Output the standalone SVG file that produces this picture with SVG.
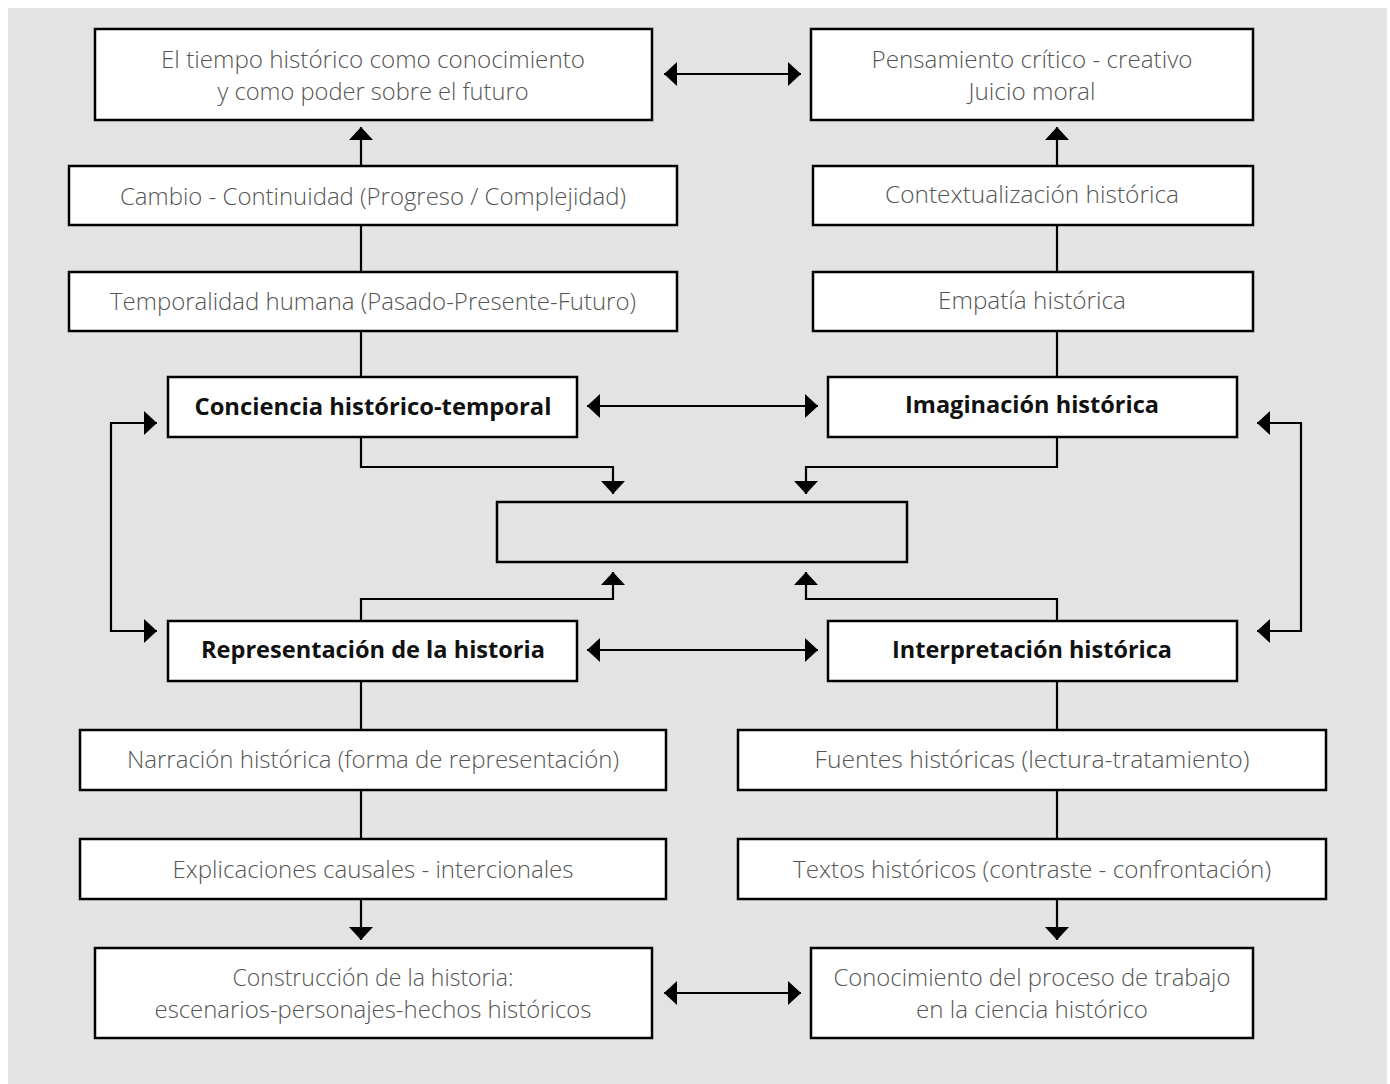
<svg xmlns="http://www.w3.org/2000/svg" width="1390" height="1084" viewBox="0 0 1390 1084">
<defs>
<marker id="ah" viewBox="0 0 13 24" refX="13" refY="12" markerWidth="13" markerHeight="24" markerUnits="userSpaceOnUse" orient="auto-start-reverse">
<path d="M0,0 L13,12 L0,24 Z" fill="#000"/>
</marker>
<style>
.box{fill:#fff;stroke:#000;stroke-width:2.5}
.empty{fill:none;stroke:#000;stroke-width:2.5}
.lt{font-family:"Open Sans","Lato","Liberation Sans",sans-serif;font-weight:300;font-size:24px;fill:#555;text-anchor:middle}
.bd{font-family:"Open Sans","Lato","Liberation Sans",sans-serif;font-weight:700;font-size:24px;fill:#111;text-anchor:middle}
.c{fill:none;stroke:#000;stroke-width:2.2}
.ce{fill:none;stroke:#000;stroke-width:2.2;marker-end:url(#ah)}
.cb{fill:none;stroke:#000;stroke-width:2.2;marker-start:url(#ah);marker-end:url(#ah)}
</style>
</defs>
<rect x="8" y="8" width="1379" height="1076" fill="#e3e3e3"/>
<g id="connectors">
<path class="cb" d="M664,74 H801"/>
<path class="ce" d="M361,166 V127"/>
<path class="c" d="M361,225 V272"/>
<path class="c" d="M361,331 V377"/>
<path class="ce" d="M1057,166 V127"/>
<path class="c" d="M1057,225 V272"/>
<path class="c" d="M1057,331 V377"/>
<path class="cb" d="M587,406 H818"/>
<path class="ce" d="M361,437 V467 H613 V494"/>
<path class="ce" d="M1057,437 V467 H806 V494"/>
<path class="ce" d="M361,621 V599 H613 V572"/>
<path class="ce" d="M1057,621 V599 H806 V572"/>
<path class="cb" d="M157,423 H111 V631 H157"/>
<path class="cb" d="M1257,423 H1301 V631 H1257"/>
<path class="cb" d="M587,650 H818"/>
<path class="c" d="M361,681 V730"/>
<path class="c" d="M361,790 V839"/>
<path class="ce" d="M361,899 V940"/>
<path class="c" d="M1057,681 V730"/>
<path class="c" d="M1057,790 V839"/>
<path class="ce" d="M1057,899 V940"/>
<path class="cb" d="M664,993 H801"/>
</g>
<g id="n-tiempo"><rect class="box" x="95" y="29" width="557" height="91"/>
<text class="lt" x="373" y="68" textLength="424" lengthAdjust="spacingAndGlyphs">El tiempo histórico como conocimiento</text>
<text class="lt" x="373" y="100" textLength="311" lengthAdjust="spacingAndGlyphs">y como poder sobre el futuro</text></g>
<g id="n-pensamiento"><rect class="box" x="811" y="29" width="442" height="91"/>
<text class="lt" x="1032" y="68" textLength="321" lengthAdjust="spacingAndGlyphs">Pensamiento crítico - creativo</text>
<text class="lt" x="1032" y="100" textLength="127" lengthAdjust="spacingAndGlyphs">Juicio moral</text></g>
<g id="n-cambio"><rect class="box" x="69" y="166" width="608" height="59"/>
<text class="lt" x="373" y="205" textLength="506" lengthAdjust="spacingAndGlyphs">Cambio - Continuidad (Progreso / Complejidad)</text></g>
<g id="n-contexto"><rect class="box" x="813" y="166" width="440" height="59"/>
<text class="lt" x="1032" y="203" textLength="294" lengthAdjust="spacingAndGlyphs">Contextualización histórica</text></g>
<g id="n-temporalidad"><rect class="box" x="69" y="272" width="608" height="59"/>
<text class="lt" x="373" y="310" textLength="526" lengthAdjust="spacingAndGlyphs">Temporalidad humana (Pasado-Presente-Futuro)</text></g>
<g id="n-empatia"><rect class="box" x="813" y="272" width="440" height="59"/>
<text class="lt" x="1032" y="309" textLength="188" lengthAdjust="spacingAndGlyphs">Empatía histórica</text></g>
<g id="n-conciencia"><rect class="box" x="168" y="377" width="409" height="60"/>
<text class="bd" x="373" y="415" textLength="357" lengthAdjust="spacingAndGlyphs">Conciencia histórico-temporal</text></g>
<g id="n-imaginacion"><rect class="box" x="828" y="377" width="409" height="60"/>
<text class="bd" x="1032" y="413" textLength="254" lengthAdjust="spacingAndGlyphs">Imaginación histórica</text></g>
<g id="n-centro"><rect class="empty" x="497" y="502" width="410" height="60"/></g>
<g id="n-representacion"><rect class="box" x="168" y="621" width="409" height="60"/>
<text class="bd" x="373" y="658" textLength="344" lengthAdjust="spacingAndGlyphs">Representación de la historia</text></g>
<g id="n-interpretacion"><rect class="box" x="828" y="621" width="409" height="60"/>
<text class="bd" x="1032" y="658" textLength="280" lengthAdjust="spacingAndGlyphs">Interpretación histórica</text></g>
<g id="n-narracion"><rect class="box" x="80" y="730" width="586" height="60"/>
<text class="lt" x="373" y="768" textLength="492" lengthAdjust="spacingAndGlyphs">Narración histórica (forma de representación)</text></g>
<g id="n-fuentes"><rect class="box" x="738" y="730" width="588" height="60"/>
<text class="lt" x="1032" y="768" textLength="435" lengthAdjust="spacingAndGlyphs">Fuentes históricas (lectura-tratamiento)</text></g>
<g id="n-explicaciones"><rect class="box" x="80" y="839" width="586" height="60"/>
<text class="lt" x="373" y="878" textLength="401" lengthAdjust="spacingAndGlyphs">Explicaciones causales - intercionales</text></g>
<g id="n-textos"><rect class="box" x="738" y="839" width="588" height="60"/>
<text class="lt" x="1032" y="878" textLength="478" lengthAdjust="spacingAndGlyphs">Textos históricos (contraste - confrontación)</text></g>
<g id="n-construccion"><rect class="box" x="95" y="948" width="557" height="90"/>
<text class="lt" x="373" y="986" textLength="281" lengthAdjust="spacingAndGlyphs">Construcción de la historia:</text>
<text class="lt" x="373" y="1018" textLength="437" lengthAdjust="spacingAndGlyphs">escenarios-personajes-hechos históricos</text></g>
<g id="n-conocimiento"><rect class="box" x="811" y="948" width="442" height="90"/>
<text class="lt" x="1032" y="986" textLength="397" lengthAdjust="spacingAndGlyphs">Conocimiento del proceso de trabajo</text>
<text class="lt" x="1032" y="1018" textLength="232" lengthAdjust="spacingAndGlyphs">en la ciencia histórico</text></g>
</svg>
